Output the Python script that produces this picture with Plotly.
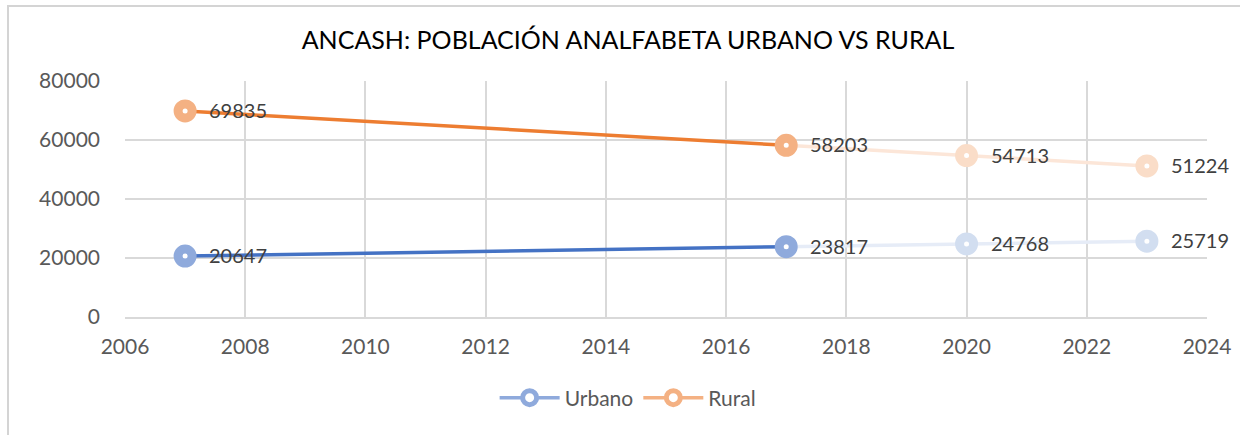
import plotly.graph_objects as go

years = [2007, 2017, 2020, 2023]
urbano = [20647, 23817, 24768, 25719]
rural = [69835, 58203, 54713, 51224]

title = "ANCASH: POBLACIÓN ANALFABETA URBANO VS RURAL"
x_range = [2006, 2024]
y_range = [0, 80000]

BLUE = "#4472C4"
BLUE_MK = "#8FAADC"
BLUE_FADE_LINE = "#E6ECF7"
BLUE_FADE_MK = "#D2DEF0"
ORANGE = "#ED7D31"
ORANGE_MK = "#F4B183"
ORANGE_FADE_LINE = "#FCE6D8"
ORANGE_FADE_MK = "#FADDC8"

FONT = "Lato"

fig = go.Figure()
annotations = []

def add_series(name, vals, dark, mk, fade_line, fade_mk):
    fig.add_trace(go.Scatter(x=years[1:], y=vals[1:], mode="lines",
                             line=dict(color=fade_line, width=3.5),
                             showlegend=False, hoverinfo="skip", cliponaxis=False))
    fig.add_trace(go.Scatter(x=years[:2], y=vals[:2], mode="lines",
                             line=dict(color=dark, width=3.5),
                             showlegend=False, hoverinfo="skip", cliponaxis=False))
    line_cols = [mk, mk, fade_mk, fade_mk]
    fig.add_trace(go.Scatter(x=years, y=vals, mode="markers",
                             marker=dict(symbol="circle", size=14, color="white",
                                         line=dict(color=line_cols, width=9)),
                             showlegend=False, cliponaxis=False))
    for xv, yv in zip(years, vals):
        annotations.append(dict(x=xv, y=yv, xref="x", yref="y", text=str(yv),
                                showarrow=False, xanchor="left", yanchor="middle",
                                xshift=22, yshift=1,
                                font=dict(family=FONT, size=20, color="#404040")))
    fig.add_trace(go.Scatter(x=[None], y=[None], mode="lines+markers", name=name,
                             line=dict(color=mk, width=3.5),
                             marker=dict(symbol="circle", size=14, color="white",
                                         line=dict(color=mk, width=9))))

add_series("Urbano", urbano, BLUE, BLUE_MK, BLUE_FADE_LINE, BLUE_FADE_MK)
add_series("Rural", rural, ORANGE, ORANGE_MK, ORANGE_FADE_LINE, ORANGE_FADE_MK)

W, H = 1240, 435
L, R, T, B = 125, 33, 81, 118
pw, ph = W - L - R, H - T - B

def px_to_paper_x(px):
    return (px - L) / pw

def px_to_paper_y(py):
    return (H - B - py) / ph

fig.update_layout(
    width=W, height=H,
    margin=dict(l=L, r=R, t=T, b=B, pad=0),
    paper_bgcolor="white", plot_bgcolor="white",
    title=dict(text=title, x=628 / W, xanchor="center", y=1 - 40 / H, yanchor="middle",
               font=dict(family=FONT, size=25, color="#000000")),
    xaxis=dict(range=x_range, dtick=2, tick0=2006, showgrid=True, gridcolor="#D9D9D9",
               gridwidth=1.5, zeroline=False, showline=True, linecolor="#D9D9D9",
               linewidth=1.5, mirror=False, ticks="", ticklabelstandoff=10,
               automargin=False,
               tickfont=dict(family=FONT, size=21, color="#595959")),
    yaxis=dict(range=y_range, dtick=20000, tickformat="d", showgrid=True,
               gridcolor="#D9D9D9", gridwidth=1.5, zeroline=False, showline=False,
               ticks="", ticklabelstandoff=24, automargin=False,
               tickfont=dict(family=FONT, size=21, color="#595959")),
    legend=dict(orientation="h", x=0.465, xanchor="center", y=px_to_paper_y(398),
                yanchor="middle", font=dict(family=FONT, size=21, color="#595959"),
                itemwidth=60),
    annotations=annotations,
    shapes=[
        dict(type="rect", xref="paper", yref="paper", layer="below",
             x0=px_to_paper_x(8), x1=px_to_paper_x(1260),
             y0=px_to_paper_y(6), y1=px_to_paper_y(460),
             fillcolor="rgba(0,0,0,0)",
             line=dict(color="#D4D4D4", width=2)),
    ],
)

fig.write_html("out.html", config={"displayModeBar": False},
               post_script="document.body.style.margin='0';document.body.style.overflow='hidden';")
